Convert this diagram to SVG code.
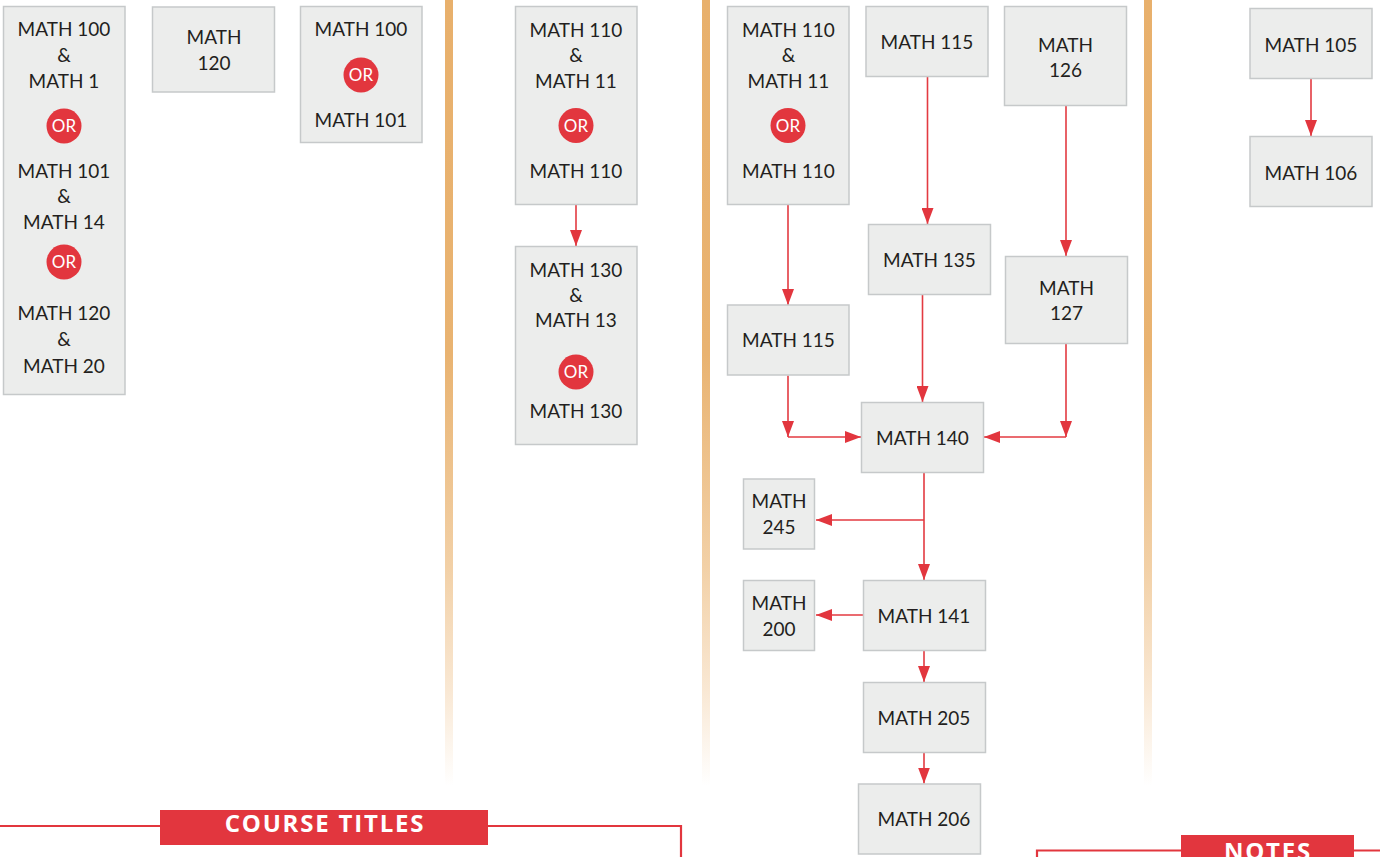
<svg xmlns="http://www.w3.org/2000/svg" width="1380" height="857" viewBox="0 0 1380 857">
<defs>
<linearGradient id="bar" gradientUnits="userSpaceOnUse" x1="0" y1="0" x2="0" y2="786">
<stop offset="0" stop-color="#E8B06C"/>
<stop offset="0.45" stop-color="#E9B371"/>
<stop offset="0.72" stop-color="#F2D0A6"/>
<stop offset="0.88" stop-color="#F9E8D4"/>
<stop offset="1" stop-color="#FFFFFF"/>
</linearGradient>
<marker id="ah" markerUnits="userSpaceOnUse" markerWidth="16" markerHeight="12" refX="16" refY="6" orient="auto" viewBox="0 0 16 12">
<path d="M0,0 L16,6 L0,12 z" fill="#E2363E"/>
</marker>
<style>
.box{fill:#ECEDEC;stroke:#C6C9CA;stroke-width:1.5}
.t{font-family:"Lato","Liberation Sans",sans-serif;font-size:19px;fill:#231F20;text-anchor:middle}
.orc{fill:#E2363E}
.ort{font-family:"Lato","Liberation Sans",sans-serif;font-size:17px;fill:#FFFFFF;text-anchor:middle}
.c{fill:none;stroke:#E33A41;stroke-width:1.6}
.ca{fill:none;stroke:#E33A41;stroke-width:1.6;marker-end:url(#ah)}
.ban{fill:#E2363E}
.bt{font-family:"Open Sans","Liberation Sans",sans-serif;font-weight:bold;font-size:24px;fill:#FFFFFF;text-anchor:middle;letter-spacing:1.8px}
.rl{fill:none;stroke:#E2363E;stroke-width:2.2}
</style>
</defs>
<rect width="1380" height="857" fill="#FFFFFF"/>

<g id="dividers">
<rect x="445" y="0" width="8" height="786" fill="url(#bar)"/>
<rect x="702" y="0" width="8" height="786" fill="url(#bar)"/>
<rect x="1144" y="0" width="8" height="786" fill="url(#bar)"/>
</g>

<g id="connectors">
<line class="ca" x1="576" y1="205" x2="576" y2="246"/>
<line class="ca" x1="788" y1="205" x2="788" y2="305"/>
<line class="ca" x1="927.5" y1="77" x2="927.5" y2="224"/>
<line class="ca" x1="1066" y1="105.5" x2="1066" y2="256"/>
<line class="ca" x1="922.5" y1="295" x2="922.5" y2="402"/>
<line class="ca" x1="788" y1="375.5" x2="788" y2="437"/>
<line class="ca" x1="788" y1="437" x2="861" y2="437"/>
<line class="ca" x1="1066" y1="344" x2="1066" y2="437"/>
<line class="ca" x1="1066" y1="437" x2="984" y2="437"/>
<line class="ca" x1="924" y1="472.5" x2="924" y2="580"/>
<line class="ca" x1="924" y1="520" x2="816" y2="520"/>
<line class="ca" x1="863" y1="615" x2="816" y2="615"/>
<line class="ca" x1="924" y1="650.5" x2="924" y2="682"/>
<line class="ca" x1="924" y1="752.5" x2="924" y2="783.5"/>
<line class="ca" x1="1311" y1="79" x2="1311" y2="136"/>
</g>

<g id="n-col1-a">
<rect class="box" x="3.5" y="6.5" width="121.5" height="388"/>
<text class="t" x="64" y="36">MATH 100</text>
<text class="t" x="64" y="62">&amp;</text>
<text class="t" x="64" y="88">MATH 1</text>
<circle class="orc" cx="64" cy="126" r="17.5"/>
<text class="ort" x="64" y="132">OR</text>
<text class="t" x="64" y="178">MATH 101</text>
<text class="t" x="64" y="203">&amp;</text>
<text class="t" x="64" y="229">MATH 14</text>
<circle class="orc" cx="64" cy="262" r="17.5"/>
<text class="ort" x="64" y="268">OR</text>
<text class="t" x="64" y="320">MATH 120</text>
<text class="t" x="64" y="346">&amp;</text>
<text class="t" x="64" y="373">MATH 20</text>
</g>

<g id="n-col1-b">
<rect class="box" x="152.5" y="7" width="122" height="85"/>
<text class="t" x="214" y="44">MATH</text>
<text class="t" x="214" y="70">120</text>
</g>

<g id="n-col1-c">
<rect class="box" x="300.5" y="6.5" width="121.5" height="136"/>
<text class="t" x="361" y="36">MATH 100</text>
<circle class="orc" cx="361" cy="75" r="17.5"/>
<text class="ort" x="361" y="81">OR</text>
<text class="t" x="361" y="127">MATH 101</text>
</g>

<g id="n-col2-a">
<rect class="box" x="515.5" y="6.5" width="121.5" height="198"/>
<text class="t" x="576" y="37">MATH 110</text>
<text class="t" x="576" y="62">&amp;</text>
<text class="t" x="576" y="88">MATH 11</text>
<circle class="orc" cx="576" cy="125.5" r="17.5"/>
<text class="ort" x="576" y="131.5">OR</text>
<text class="t" x="576" y="178">MATH 110</text>
</g>

<g id="n-col2-b">
<rect class="box" x="515.5" y="246.5" width="121.5" height="198"/>
<text class="t" x="576" y="277">MATH 130</text>
<text class="t" x="576" y="302">&amp;</text>
<text class="t" x="576" y="327">MATH 13</text>
<circle class="orc" cx="576" cy="372" r="17.5"/>
<text class="ort" x="576" y="378">OR</text>
<text class="t" x="576" y="418">MATH 130</text>
</g>

<g id="n-col3-a">
<rect class="box" x="727.5" y="6.5" width="121.5" height="198"/>
<text class="t" x="788.5" y="37">MATH 110</text>
<text class="t" x="788.5" y="62">&amp;</text>
<text class="t" x="788.5" y="88">MATH 11</text>
<circle class="orc" cx="788" cy="125.5" r="17.5"/>
<text class="ort" x="788" y="131.5">OR</text>
<text class="t" x="788.5" y="178">MATH 110</text>
</g>

<g id="n-math115-top">
<rect class="box" x="866" y="6.5" width="122" height="70"/>
<text class="t" x="927" y="49">MATH 115</text>
</g>

<g id="n-math126">
<rect class="box" x="1004.5" y="6.5" width="122" height="99"/>
<text class="t" x="1065.5" y="51.5">MATH</text>
<text class="t" x="1065.5" y="76.5">126</text>
</g>

<g id="n-math115">
<rect class="box" x="727.5" y="305" width="121.5" height="70"/>
<text class="t" x="788.5" y="347">MATH 115</text>
</g>

<g id="n-math135">
<rect class="box" x="868.5" y="224.5" width="122" height="70"/>
<text class="t" x="929.5" y="267">MATH 135</text>
</g>

<g id="n-math127">
<rect class="box" x="1005.5" y="256.5" width="122" height="87"/>
<text class="t" x="1066.5" y="295">MATH</text>
<text class="t" x="1066.5" y="320">127</text>
</g>

<g id="n-math140">
<rect class="box" x="861.5" y="402.5" width="122" height="70"/>
<text class="t" x="922.5" y="445">MATH 140</text>
</g>

<g id="n-math245">
<rect class="box" x="743.5" y="479" width="71" height="70"/>
<text class="t" x="779" y="508">MATH</text>
<text class="t" x="779" y="534">245</text>
</g>

<g id="n-math141">
<rect class="box" x="863.5" y="580.5" width="122" height="70"/>
<text class="t" x="924" y="622.5">MATH 141</text>
</g>

<g id="n-math200">
<rect class="box" x="743.5" y="580.5" width="71" height="70"/>
<text class="t" x="779" y="610">MATH</text>
<text class="t" x="779" y="636">200</text>
</g>

<g id="n-math205">
<rect class="box" x="863.5" y="682.5" width="122" height="70"/>
<text class="t" x="924" y="725">MATH 205</text>
</g>

<g id="n-math206">
<rect class="box" x="858.5" y="784" width="122" height="70"/>
<text class="t" x="924" y="826">MATH 206</text>
</g>

<g id="n-math105">
<rect class="box" x="1250" y="8.5" width="122" height="70"/>
<text class="t" x="1311" y="51.5">MATH 105</text>
</g>

<g id="n-math106">
<rect class="box" x="1250" y="136.5" width="122" height="70"/>
<text class="t" x="1311" y="180">MATH 106</text>
</g>

<g id="course-titles">
<polyline class="rl" points="0,826 681,826 681,857"/>
<rect class="ban" x="160" y="810" width="328" height="35"/>
<text class="bt" x="325" y="832">COURSE TITLES</text>
</g>

<g id="notes">
<polyline class="rl" points="1037,857 1037,850.5 1380,850.5"/>
<rect class="ban" x="1181" y="835" width="173" height="22"/>
<text class="bt" x="1268" y="860">NOTES</text>
</g>
</svg>
